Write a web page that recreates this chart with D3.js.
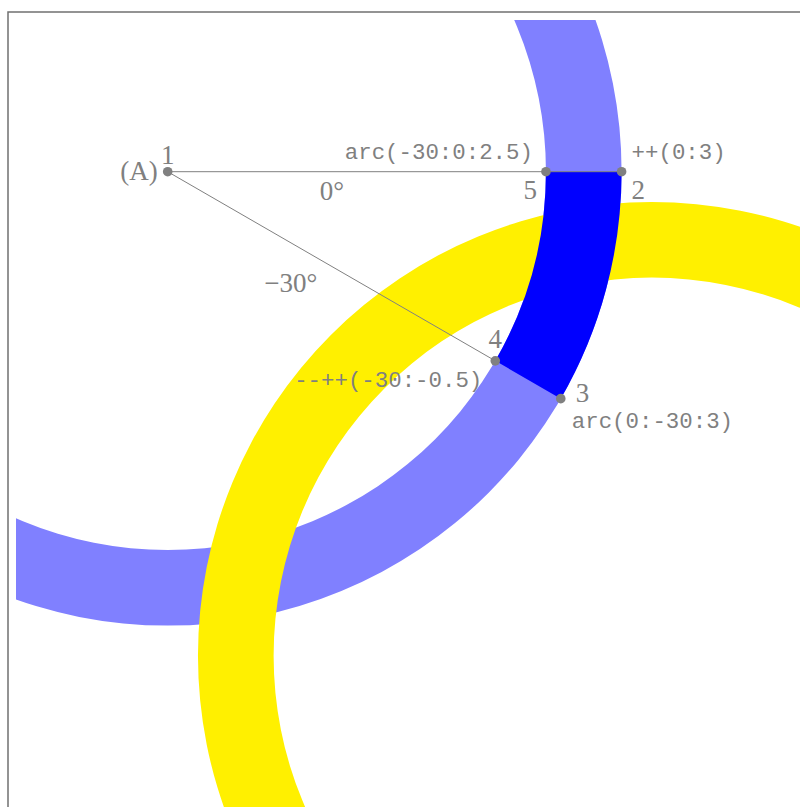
<!DOCTYPE html>
<html>
<head>
<meta charset="utf-8">
<style>
    body { margin: 0; background: #fff; }
    svg { display: block; }
    .serif { font-family: "Liberation Serif", "DejaVu Serif", serif; font-size: 27px; fill: #808080; }
    .mono { font-family: "Liberation Mono", "DejaVu Sans Mono", monospace; font-size: 22.4px; fill: #808080; }
</style>
<script src="https://d3js.org/d3.v7.min.js"></script>
</head>
<body>
<svg id="chart"></svg>
<script>
    // rings (units of the picture, origin at A)
    var ringCenterX = [0, 3.2];
    var ringCenterY = [0, -3.2];
    var ringInner = [2.5, 2.5];
    var ringOuter = [3, 3];
    var ringColors = ['#8080ff', '#fff000'];

    // the highlighted piece: angles in degrees, radii in units
    var pieceAngles = [-30, 0];
    var pieceRadii = [2.5, 3];

    // path points, polar from A
    var pointNames = ['1', '2', '3', '4', '5'];
    var pointAngles = [0, 0, -30, -30, 0];
    var pointRadii = [0, 3, 3, 2.5, 2.5];

    // path step labels, one per point after the first
    var stepLabels = ['++(0:3)', 'arc(0:-30:3)', '--++(-30:-0.5)', 'arc(-30:0:2.5)'];

    // angle labels along the two rays
    var rayAngles = [0, -30];
    var rayLabels = ['0°', '−30°'];

    var width = 800, height = 807;
    var unit = 151.3;

    var svg = d3.select('#chart').attr('width', width).attr('height', height);

    var x = d3.scaleLinear().domain([0, 1]).range([167.7, 167.7 + unit]);
    var y = d3.scaleLinear().domain([0, 1]).range([171.7, 171.7 - unit]);

    function polar(a, r) {
        var t = a * Math.PI / 180;
        return [x(r * Math.cos(t)), y(r * Math.sin(t))];
    }
    // math degrees -> d3.arc radians
    function toArcAngle(a) { return (90 - a) * Math.PI / 180; }

    svg.append('defs').append('clipPath').attr('id', 'clip')
        .append('rect')
        .attr('x', 16).attr('y', 20)
        .attr('width', width).attr('height', height);

    var g = svg.append('g').attr('clip-path', 'url(#clip)');

    var ring = d3.arc();
    g.selectAll('path.ring')
        .data(ringCenterX)
        .enter().append('path')
        .attr('class', 'ring')
        .attr('transform', function (d, i) { return 'translate(' + x(d) + ',' + y(ringCenterY[i]) + ')'; })
        .attr('d', function (d, i) {
            return ring({
                innerRadius: ringInner[i] * unit,
                outerRadius: ringOuter[i] * unit,
                startAngle: 0,
                endAngle: 2 * Math.PI
            });
        })
        .attr('fill', function (d, i) { return ringColors[i]; });

    // dark blue piece
    g.append('path')
        .attr('transform', 'translate(' + x(0) + ',' + y(0) + ')')
        .attr('d', ring({
            innerRadius: pieceRadii[0] * unit,
            outerRadius: pieceRadii[1] * unit,
            startAngle: toArcAngle(pieceAngles[1]),
            endAngle: toArcAngle(pieceAngles[0])
        }))
        .attr('fill', '#0000ff');

    // frame
    svg.append('rect')
        .attr('x', 8).attr('y', 12)
        .attr('width', width + 20).attr('height', height + 20)
        .attr('fill', 'none')
        .attr('stroke', '#707070')
        .attr('stroke-width', 1.5);

    var pts = pointNames.map(function (n, i) { return polar(pointAngles[i], pointRadii[i]); });

    // rays from A
    svg.selectAll('line.ray')
        .data([1, 3])
        .enter().append('line')
        .attr('x1', pts[0][0]).attr('y1', pts[0][1])
        .attr('x2', function (d) { return pts[d][0]; })
        .attr('y2', function (d) { return pts[d][1]; })
        .attr('stroke', '#808080')
        .attr('stroke-width', 1);

    svg.selectAll('circle.pt')
        .data(pts)
        .enter().append('circle')
        .attr('cx', function (d) { return d[0]; })
        .attr('cy', function (d) { return d[1]; })
        .attr('r', 4.8)
        .attr('fill', '#808080');

    // point number labels: [dx, dy, anchor]
    var numPlace = [[0, -8, 'middle'], [10, 27, 'start'], [15, 3, 'start'], [0, -13, 'middle'], [-9, 27, 'end']];
    svg.selectAll('text.num')
        .data(pointNames)
        .enter().append('text')
        .attr('class', 'serif')
        .attr('x', function (d, i) { return pts[i][0] + numPlace[i][0]; })
        .attr('y', function (d, i) { return pts[i][1] + numPlace[i][1]; })
        .attr('text-anchor', function (d, i) { return numPlace[i][2]; })
        .text(function (d) { return d; });

    svg.append('text')
        .attr('class', 'serif')
        .attr('x', pts[0][0] - 10)
        .attr('y', pts[0][1] + 8)
        .attr('text-anchor', 'end')
        .text('(A)');

    // step labels
    var stepPlace = [[10, -13, 'start'], [11, 29, 'start'], [-13, 26, 'end'], [-13, -13, 'end']];
    svg.selectAll('text.step')
        .data(stepLabels)
        .enter().append('text')
        .attr('class', 'mono')
        .attr('x', function (d, i) { return pts[i + 1][0] + stepPlace[i][0]; })
        .attr('y', function (d, i) { return pts[i + 1][1] + stepPlace[i][1]; })
        .attr('text-anchor', function (d, i) { return stepPlace[i][2]; })
        .text(function (d) { return d; });

    // angle labels
    var rayPlace = [[0, 28, 1.086], [-8, 45, 1.0]];
    svg.selectAll('text.ang')
        .data(rayLabels)
        .enter().append('text')
        .attr('class', 'serif')
        .attr('x', function (d, i) { return polar(rayAngles[i], rayPlace[i][2])[0] + rayPlace[i][0]; })
        .attr('y', function (d, i) { return polar(rayAngles[i], rayPlace[i][2])[1] + rayPlace[i][1]; })
        .attr('text-anchor', 'middle')
        .text(function (d) { return d; });
</script>
</body>
</html>
